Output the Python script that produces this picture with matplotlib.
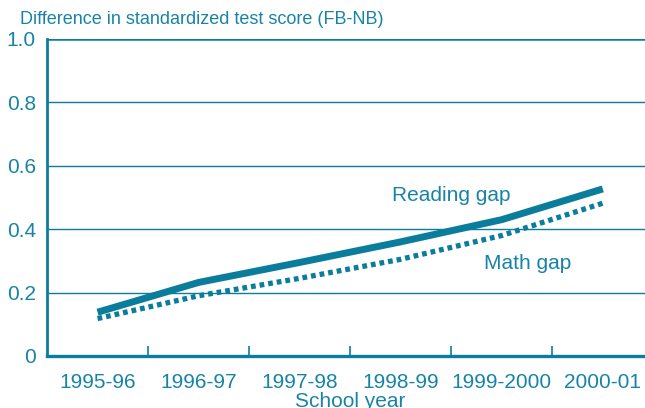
import matplotlib.pyplot as plt
import numpy as np

plt.rcParams['font.family'] = ['Liberation Sans', 'DejaVu Sans']

years = ["1995-96", "1996-97", "1997-98", "1998-99", "1999-2000", "2000-01"]
reading_gap = [0.138, 0.232, 0.295, 0.36, 0.43, 0.527]
math_gap = [0.118, 0.19, 0.245, 0.305, 0.38, 0.482]
yticks = [0, 0.2, 0.4, 0.6, 0.8, 1.0]
ytick_labels = ["0", "0.2", "0.4", "0.6", "0.8", "1.0"]

teal = "#0b7d9c"
text_c = "#1784a6"

fig = plt.figure(figsize=(6.45, 4.08), dpi=100)
ax = fig.add_axes([0.0729, 0.1275, 0.94, 0.777])

x = np.arange(len(years))
for y in yticks[1:-1]:
    ax.axhline(y, color=teal, lw=1.0, zorder=1)
ax.axhline(1.0, color=teal, lw=1.8, zorder=1)

ax.plot(x, reading_gap, color=teal, lw=5.0, solid_capstyle='butt', zorder=3)
ax.plot(x, math_gap, color=teal, lw=3.8, linestyle=(0, (0.9, 0.75)),
        dash_capstyle='butt', zorder=3)

ax.text(3.5, 0.505, "Reading gap", color=text_c, fontsize=15, ha='center', va='center')
ax.text(4.26, 0.293, "Math gap", color=text_c, fontsize=15, ha='center', va='center')

ax.set_xlim(-0.5, 5.5)
ax.set_ylim(0, 1.0)
ax.set_yticks(yticks)
ax.set_yticklabels(ytick_labels)
ax.set_xticks(x)
ax.set_xticklabels(years)
ax.set_xticks(np.arange(0.5, 5, 1), minor=True)
ax.tick_params(axis='x', which='major', length=0, pad=12, labelsize=15, labelcolor=text_c)
ax.tick_params(axis='x', which='minor', direction='in', length=7, width=1.2, color=teal)
ax.tick_params(axis='y', length=0, pad=8, labelsize=15, labelcolor=text_c)

for s in ['top', 'right']:
    ax.spines[s].set_visible(False)
ax.spines['left'].set_color(teal)
ax.spines['left'].set_linewidth(2.0)
ax.spines['bottom'].set_color(teal)
ax.spines['bottom'].set_linewidth(2.4)

ax.set_xlabel("School year", color=text_c, fontsize=15, labelpad=0)
fig.text(0.031, 0.952, "Difference in standardized test score (FB-NB)", color=text_c,
         fontsize=13, ha='left', va='center')

fig.savefig("out.png", dpi=100)
